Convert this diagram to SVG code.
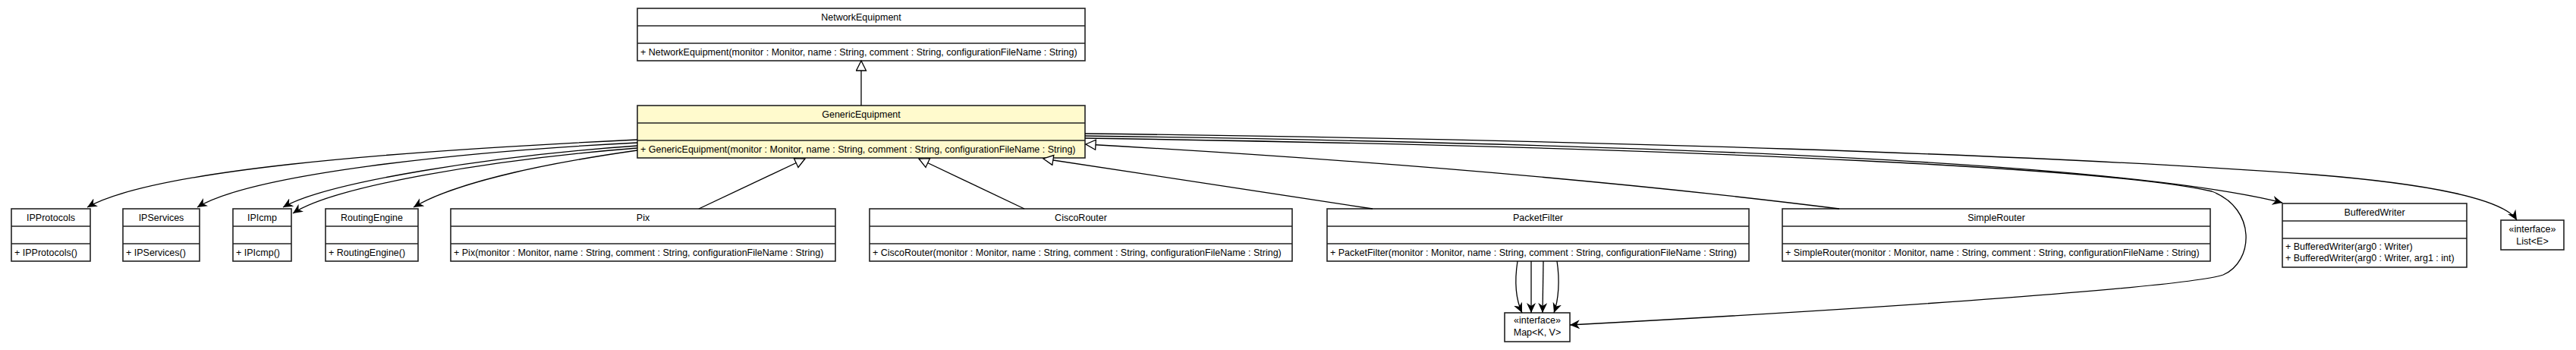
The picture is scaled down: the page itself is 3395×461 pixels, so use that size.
<svg xmlns="http://www.w3.org/2000/svg" width="3395" height="461" viewBox="0 0 3395 461">
<style>
.box{fill:#fff;stroke:#222;stroke-width:1.6}
.focus{fill:#fffacd}
.sep{stroke:#222;stroke-width:1.6}
.t{font-family:"Liberation Sans",Arial,sans-serif;font-size:12.5px;fill:#000}
.c{text-anchor:middle}
.edge{fill:none;stroke:#000;stroke-width:1.3}
.assoc{marker-end:url(#vee)}
.gen{marker-end:url(#tri)}
</style>
<defs>
<marker id="vee" markerUnits="userSpaceOnUse" viewBox="0 0 13 12" refX="13" refY="6" markerWidth="13" markerHeight="12" orient="auto">
<path d="M0,0 L13,6 L0,12 L4,6 Z" fill="#000"/>
</marker>
<marker id="tri" markerUnits="userSpaceOnUse" viewBox="-1 -1 16 16" refX="13" refY="6.5" markerWidth="16" markerHeight="16" orient="auto">
<path d="M0,0 L13,6.5 L0,13 Z" fill="#fff" stroke="#000" stroke-width="1.3"/>
</marker>
</defs>
<rect width="3395" height="461" fill="#fff"/>

<g id="NetworkEquipment">
<rect class="box" x="840" y="11" width="590" height="69"/>
<line class="sep" x1="840" y1="34" x2="1430" y2="34"/>
<line class="sep" x1="840" y1="57" x2="1430" y2="57"/>
<text class="t c" x="1135" y="26.5">NetworkEquipment</text>
<text class="t" x="844" y="72.5">+ NetworkEquipment(monitor : Monitor, name : String, comment : String, configurationFileName : String)</text>
</g>

<g id="GenericEquipment">
<rect class="box focus" x="840" y="139" width="590" height="69"/>
<line class="sep" x1="840" y1="162" x2="1430" y2="162"/>
<line class="sep" x1="840" y1="185" x2="1430" y2="185"/>
<text class="t c" x="1135" y="154.5">GenericEquipment</text>
<text class="t" x="844" y="200.5">+ GenericEquipment(monitor : Monitor, name : String, comment : String, configurationFileName : String)</text>
</g>

<g id="IPProtocols">
<rect class="box" x="15" y="275" width="104" height="69"/>
<line class="sep" x1="15" y1="298" x2="119" y2="298"/>
<line class="sep" x1="15" y1="321" x2="119" y2="321"/>
<text class="t c" x="67" y="290.5">IPProtocols</text>
<text class="t" x="19" y="336.5">+ IPProtocols()</text>
</g>

<g id="IPServices">
<rect class="box" x="162" y="275" width="101" height="69"/>
<line class="sep" x1="162" y1="298" x2="263" y2="298"/>
<line class="sep" x1="162" y1="321" x2="263" y2="321"/>
<text class="t c" x="212.5" y="290.5">IPServices</text>
<text class="t" x="166" y="336.5">+ IPServices()</text>
</g>

<g id="IPIcmp">
<rect class="box" x="307" y="275" width="77" height="69"/>
<line class="sep" x1="307" y1="298" x2="384" y2="298"/>
<line class="sep" x1="307" y1="321" x2="384" y2="321"/>
<text class="t c" x="345.5" y="290.5">IPIcmp</text>
<text class="t" x="311" y="336.5">+ IPIcmp()</text>
</g>

<g id="RoutingEngine">
<rect class="box" x="429" y="275" width="122" height="69"/>
<line class="sep" x1="429" y1="298" x2="551" y2="298"/>
<line class="sep" x1="429" y1="321" x2="551" y2="321"/>
<text class="t c" x="490" y="290.5">RoutingEngine</text>
<text class="t" x="433" y="336.5">+ RoutingEngine()</text>
</g>

<g id="Pix">
<rect class="box" x="594" y="275" width="507" height="69"/>
<line class="sep" x1="594" y1="298" x2="1101" y2="298"/>
<line class="sep" x1="594" y1="321" x2="1101" y2="321"/>
<text class="t c" x="847.5" y="290.5">Pix</text>
<text class="t" x="598" y="336.5">+ Pix(monitor : Monitor, name : String, comment : String, configurationFileName : String)</text>
</g>

<g id="CiscoRouter">
<rect class="box" x="1146" y="275" width="557" height="69"/>
<line class="sep" x1="1146" y1="298" x2="1703" y2="298"/>
<line class="sep" x1="1146" y1="321" x2="1703" y2="321"/>
<text class="t c" x="1424.5" y="290.5">CiscoRouter</text>
<text class="t" x="1150" y="336.5">+ CiscoRouter(monitor : Monitor, name : String, comment : String, configurationFileName : String)</text>
</g>

<g id="PacketFilter">
<rect class="box" x="1749" y="275" width="556" height="69"/>
<line class="sep" x1="1749" y1="298" x2="2305" y2="298"/>
<line class="sep" x1="1749" y1="321" x2="2305" y2="321"/>
<text class="t c" x="2027" y="290.5">PacketFilter</text>
<text class="t" x="1753" y="336.5">+ PacketFilter(monitor : Monitor, name : String, comment : String, configurationFileName : String)</text>
</g>

<g id="SimpleRouter">
<rect class="box" x="2349" y="275" width="564" height="69"/>
<line class="sep" x1="2349" y1="298" x2="2913" y2="298"/>
<line class="sep" x1="2349" y1="321" x2="2913" y2="321"/>
<text class="t c" x="2631" y="290.5">SimpleRouter</text>
<text class="t" x="2353" y="336.5">+ SimpleRouter(monitor : Monitor, name : String, comment : String, configurationFileName : String)</text>
</g>

<g id="BufferedWriter">
<rect class="box" x="3008" y="268" width="243" height="84"/>
<line class="sep" x1="3008" y1="291" x2="3251" y2="291"/>
<line class="sep" x1="3008" y1="314" x2="3251" y2="314"/>
<text class="t c" x="3129.5" y="283.5">BufferedWriter</text>
<text class="t" x="3012" y="328.5">+ BufferedWriter(arg0 : Writer)</text>
<text class="t" x="3012" y="343.5">+ BufferedWriter(arg0 : Writer, arg1 : int)</text>
</g>

<g id="ListE">
<rect class="box" x="3296" y="290" width="83" height="39"/>
<text class="t c" x="3337.5" y="305.5">«interface»</text>
<text class="t c" x="3337.5" y="321.5">List&lt;E&gt;</text>
</g>

<g id="MapKV">
<rect class="box" x="1983" y="412" width="86" height="38"/>
<text class="t c" x="2026" y="425.5">«interface»</text>
<text class="t c" x="2026" y="441.5">Map&lt;K, V&gt;</text>
</g>

<g id="connectors">
<path class="edge gen" d="M1135,139 L1135,80"/>
<path class="edge gen" d="M921,275 L1061,209"/>
<path class="edge gen" d="M1350,275 L1211,209"/>
<path class="edge gen" d="M1809,275 L1375,209"/>
<path class="edge gen" d="M2424,275 Q2000,222 1431,190"/>
<path class="edge assoc" d="M840,184 C500,200 200,225 115,273"/>
<path class="edge assoc" d="M840,188 C600,200 330,230 260,273"/>
<path class="edge assoc" d="M840,192 C650,205 430,240 373,273"/>
<path class="edge assoc" d="M840,195 C650,210 440,245 386,281"/>
<path class="edge assoc" d="M840,198 C720,215 600,240 545,273"/>
<path class="edge assoc" d="M1430,176 C2100,184 2700,204 3050,230 C3200,242 3300,262 3317,290"/>
<path class="edge assoc" d="M1430,179 C2200,190 2800,215 3008,267"/>
<path class="edge assoc" d="M1430,182 C2300,195 2800,225 2915,252 C2975,275 2970,345 2930,362 C2880,378 2500,405 2069,428"/>
<path class="edge assoc" d="M2000,344 C1996,370 1998,395 2006,412"/>
<path class="edge assoc" d="M2018,344 L2018,412"/>
<path class="edge assoc" d="M2034,344 L2033,412"/>
<path class="edge assoc" d="M2052,344 C2056,370 2054,395 2048,412"/>
</g>
</svg>
